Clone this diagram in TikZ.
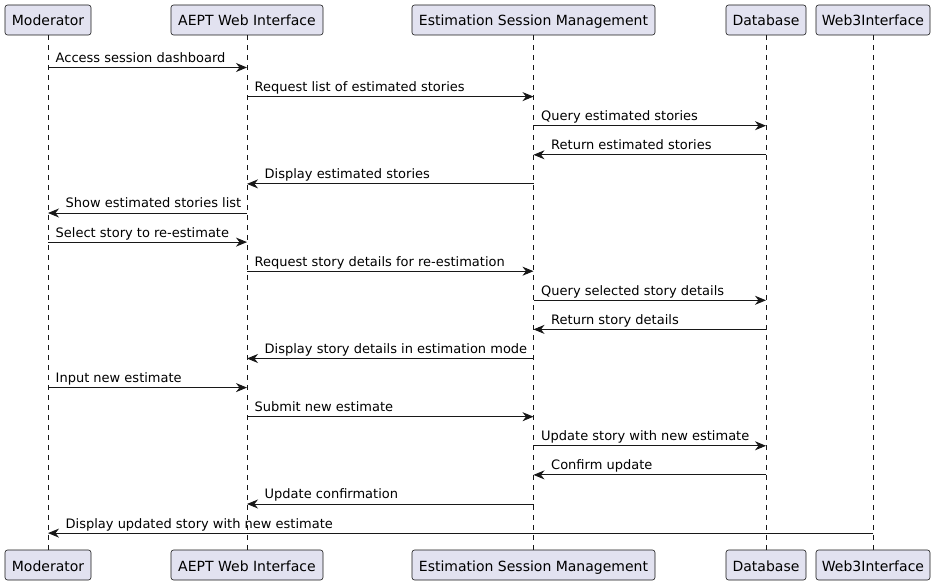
\documentclass[tikz,border=0pt]{standalone}
\usepackage{fontspec}
\setmainfont{DejaVu Sans}
\usetikzlibrary{arrows.meta}
\definecolor{pbox}{HTML}{E2E2F0}
\definecolor{pline}{HTML}{181818}
\tikzset{
  part/.style={draw=pline, fill=pbox, line width=0.6pt, rounded corners=2.5pt,
    minimum height=30pt, inner xsep=0pt, inner ysep=0pt, text height=12pt, text depth=0pt,
    font=\fontsize{14}{16}\selectfont, text=black},
  life/.style={draw=pline, line width=0.6pt, dash pattern=on 5pt off 5pt},
  msg/.style={draw=pline, line width=0.9pt, -{Stealth[length=11pt,width=9pt,inset=3.5pt]}},
  lbl/.style={anchor=base west, inner sep=0pt, font=\fontsize{13}{15}\selectfont, text=black}
}
\newcommand\msgr[4]{\draw[msg] (#1 |- 0,#3) -- (#2 |- 0,#3);
  \path (#1 |- 0,#3) ++(7.5,-5) node[lbl]{#4};}
\newcommand\msgl[4]{\draw[msg] (#1 |- 0,#3) -- (#2 |- 0,#3);
  \path (#2 |- 0,#3) ++(17.5,-5) node[lbl]{#4};}
\begin{document}
\begin{tikzpicture}[x=1pt,y=-1pt]
\useasboundingbox (0,0) rectangle (938,585);
% top participants
\node[part, minimum width=86pt]  (Mt) at (48,20)   {Moderator};
\node[part, minimum width=152pt] (At) at (247,20)  {AEPT Web Interface};
\node[part, minimum width=243pt] (Et) at (533.5,20) {Estimation Session Management};
\node[part, minimum width=80pt]  (Dt) at (766,20)  {Database};
\node[part, minimum width=114pt] (Wt) at (873,20)  {Web3Interface};
% bottom participants
\node[part, minimum width=86pt]  (Mb) at (48,565)   {Moderator};
\node[part, minimum width=152pt] (Ab) at (247,565)  {AEPT Web Interface};
\node[part, minimum width=243pt] (Eb) at (533.5,565) {Estimation Session Management};
\node[part, minimum width=80pt]  (Db) at (766,565)  {Database};
\node[part, minimum width=114pt] (Wb) at (873,565)  {Web3Interface};
% lifelines
\foreach \p in {M,A,E,D,W} \draw[life] (\p t.south) -- (\p b.north);
% messages
\msgr{Mt}{At}{67.5}{Access session dashboard}
\msgr{At}{Et}{96.6}{Request list of estimated stories}
\msgr{Et}{Dt}{125.7}{Query estimated stories}
\msgl{Dt}{Et}{154.8}{Return estimated stories}
\msgl{Et}{At}{183.9}{Display estimated stories}
\msgl{At}{Mt}{213.0}{Show estimated stories list}
\msgr{Mt}{At}{242.1}{Select story to re-estimate}
\msgr{At}{Et}{271.2}{Request story details for re-estimation}
\msgr{Et}{Dt}{300.3}{Query selected story details}
\msgl{Dt}{Et}{329.4}{Return story details}
\msgl{Et}{At}{358.5}{Display story details in estimation mode}
\msgr{Mt}{At}{387.6}{Input new estimate}
\msgr{At}{Et}{416.7}{Submit new estimate}
\msgr{Et}{Dt}{445.8}{Update story with new estimate}
\msgl{Dt}{Et}{474.9}{Confirm update}
\msgl{Et}{At}{504.0}{Update confirmation}
\msgl{Wt}{Mt}{533.1}{Display updated story with new estimate}
\end{tikzpicture}
\end{document}
